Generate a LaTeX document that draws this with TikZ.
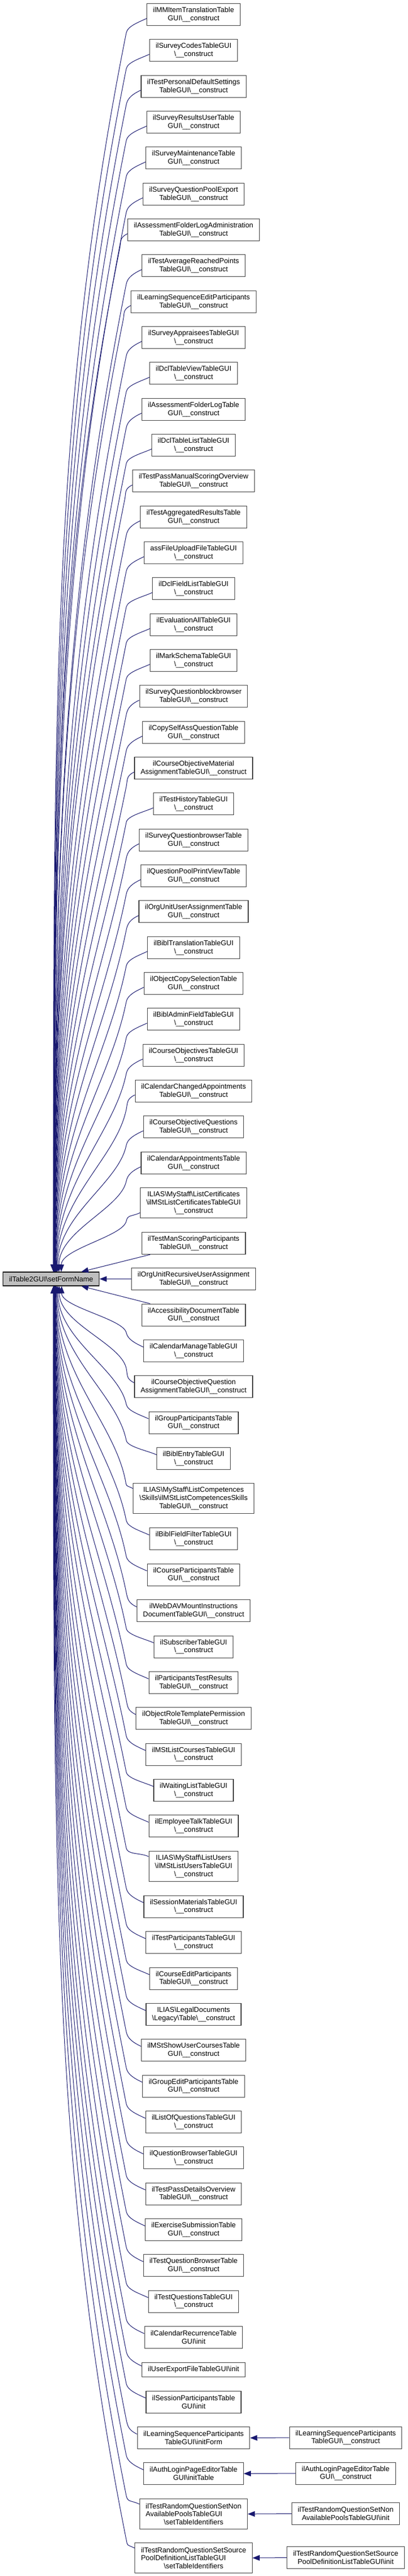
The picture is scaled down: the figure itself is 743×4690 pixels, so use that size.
\documentclass[tikz,border=0pt]{standalone}
\usepackage{fontspec}
\setmainfont{Liberation Sans}
\usetikzlibrary{arrows.meta,calc}
\definecolor{edgeblue}{HTML}{191970}
\definecolor{nodegray}{HTML}{BFBFBF}
\definecolor{nodeborder}{HTML}{404040}
\newcommand\bsl{\textbackslash}
\newcommand\ctor{\textbackslash\_\_construct}
\begin{document}
\begin{tikzpicture}[x=1pt,y=-1pt,
  font=\fontsize{13}{14.7}\selectfont,
  cls/.style={draw=nodeborder, line width=1.1pt, fill=white, align=center,
    inner xsep=11pt, inner ysep=0pt, anchor=north},
  h1/.style={minimum height=26pt},
  h2/.style={minimum height=40pt},
  h3/.style={minimum height=55pt},
  conn/.style={draw=edgeblue, line width=1pt,
    {Triangle[length=13pt,width=10pt,fill=edgeblue]}-}]
\fill[white] (0,0) rectangle (743,4690);
\useasboundingbox (0,0) rectangle (743,4690);

\node[cls, fill=nodegray, draw=black, anchor=west, minimum height=25pt] (L) at (5,2328.5) {ilTable2GUI\bsl setFormName};

\node[cls,h2] (n1) at (352.5,6) {ilMMItemTranslationTable\\GUI\ctor};
\node[cls,h2] (n2) at (352.5,71.3) {ilSurveyCodesTableGUI\\\ctor};
\node[cls,h2] (n3) at (352.5,136.7) {ilTestPersonalDefaultSettings\\TableGUI\ctor};
\node[cls,h2] (n4) at (352.5,202) {ilSurveyResultsUserTable\\GUI\ctor};
\node[cls,h2] (n5) at (352.5,267.3) {ilSurveyMaintenanceTable\\GUI\ctor};
\node[cls,h2] (n6) at (352.5,332.7) {ilSurveyQuestionPoolExport\\TableGUI\ctor};
\node[cls,h2] (n7) at (352.5,398) {ilAssessmentFolderLogAdministration\\TableGUI\ctor};
\node[cls,h2] (n8) at (352.5,463.3) {ilTestAverageReachedPoints\\TableGUI\ctor};
\node[cls,h2] (n9) at (352.5,528.7) {ilLearningSequenceEditParticipants\\TableGUI\ctor};
\node[cls,h2] (n10) at (352.5,594) {ilSurveyAppraiseesTableGUI\\\ctor};
\node[cls,h2] (n11) at (352.5,659.3) {ilDclTableViewTableGUI\\\ctor};
\node[cls,h2] (n12) at (352.5,724.7) {ilAssessmentFolderLogTable\\GUI\ctor};
\node[cls,h2] (n13) at (352.5,790) {ilDclTableListTableGUI\\\ctor};
\node[cls,h2] (n14) at (352.5,855.3) {ilTestPassManualScoringOverview\\TableGUI\ctor};
\node[cls,h2] (n15) at (352.5,920.7) {ilTestAggregatedResultsTable\\GUI\ctor};
\node[cls,h2] (n16) at (352.5,986) {assFileUploadFileTableGUI\\\ctor};
\node[cls,h2] (n17) at (352.5,1051.3) {ilDclFieldListTableGUI\\\ctor};
\node[cls,h2] (n18) at (352.5,1116.7) {ilEvaluationAllTableGUI\\\ctor};
\node[cls,h2] (n19) at (352.5,1182) {ilMarkSchemaTableGUI\\\ctor};
\node[cls,h2] (n20) at (352.5,1247.3) {ilSurveyQuestionblockbrowser\\TableGUI\ctor};
\node[cls,h2] (n21) at (352.5,1312.7) {ilCopySelfAssQuestionTable\\GUI\ctor};
\node[cls,h2] (n22) at (352.5,1378) {ilCourseObjectiveMaterial\\AssignmentTableGUI\ctor};
\node[cls,h2] (n23) at (352.5,1443.3) {ilTestHistoryTableGUI\\\ctor};
\node[cls,h2] (n24) at (352.5,1508.7) {ilSurveyQuestionbrowserTable\\GUI\ctor};
\node[cls,h2] (n25) at (352.5,1574) {ilQuestionPoolPrintViewTable\\GUI\ctor};
\node[cls,h2] (n26) at (352.5,1639.3) {ilOrgUnitUserAssignmentTable\\GUI\ctor};
\node[cls,h2] (n27) at (352.5,1704.7) {ilBiblTranslationTableGUI\\\ctor};
\node[cls,h2] (n28) at (352.5,1770) {ilObjectCopySelectionTable\\GUI\ctor};
\node[cls,h2] (n29) at (352.5,1835.3) {ilBiblAdminFieldTableGUI\\\ctor};
\node[cls,h2] (n30) at (352.5,1900.7) {ilCourseObjectivesTableGUI\\\ctor};
\node[cls,h2] (n31) at (352.5,1966) {ilCalendarChangedAppointments\\TableGUI\ctor};
\node[cls,h2] (n32) at (352.5,2031.3) {ilCourseObjectiveQuestions\\TableGUI\ctor};
\node[cls,h2] (n33) at (352.5,2096.7) {ilCalendarAppointmentsTable\\GUI\ctor};
\node[cls,h3] (n34) at (352.5,2162) {ILIAS\bsl MyStaff\bsl ListCertificates\\\bsl ilMStListCertificatesTableGUI\\\ctor};
\node[cls,h2] (n35) at (352.5,2243) {ilTestManScoringParticipants\\TableGUI\ctor};
\node[cls,h2] (n36) at (352.5,2308) {ilOrgUnitRecursiveUserAssignment\\TableGUI\ctor};
\node[cls,h2] (n37) at (352.5,2373.5) {ilAccessibilityDocumentTable\\GUI\ctor};
\node[cls,h2] (n38) at (352.5,2439) {ilCalendarManageTableGUI\\\ctor};
\node[cls,h2] (n39) at (352.5,2504) {ilCourseObjectiveQuestion\\AssignmentTableGUI\ctor};
\node[cls,h2] (n40) at (352.5,2569.5) {ilGroupParticipantsTable\\GUI\ctor};
\node[cls,h2] (n41) at (352.5,2635) {ilBiblEntryTableGUI\\\ctor};
\node[cls,h3] (n42) at (352.5,2700) {ILIAS\bsl MyStaff\bsl ListCompetences\\\bsl Skills\bsl ilMStListCompetencesSkills\\TableGUI\ctor};
\node[cls,h2] (n43) at (352.5,2781) {ilBiblFieldFilterTableGUI\\\ctor};
\node[cls,h2] (n44) at (352.5,2846.5) {ilCourseParticipantsTable\\GUI\ctor};
\node[cls,h2] (n45) at (352.5,2912) {ilWebDAVMountInstructions\\DocumentTableGUI\ctor};
\node[cls,h2] (n46) at (352.5,2977.5) {ilSubscriberTableGUI\\\ctor};
\node[cls,h2] (n47) at (352.5,3043) {ilParticipantsTestResults\\TableGUI\ctor};
\node[cls,h2] (n48) at (352.5,3108) {ilObjectRoleTemplatePermission\\TableGUI\ctor};
\node[cls,h2] (n49) at (352.5,3173.5) {ilMStListCoursesTableGUI\\\ctor};
\node[cls,h2] (n50) at (352.5,3239) {ilWaitingListTableGUI\\\ctor};
\node[cls,h2] (n51) at (352.5,3304) {ilEmployeeTalkTableGUI\\\ctor};
\node[cls,h3] (n52) at (352.5,3370) {ILIAS\bsl MyStaff\bsl ListUsers\\\bsl ilMStListUsersTableGUI\\\ctor};
\node[cls,h2] (n53) at (352.5,3450.5) {ilSessionMaterialsTableGUI\\\ctor};
\node[cls,h2] (n54) at (352.5,3516) {ilTestParticipantsTableGUI\\\ctor};
\node[cls,h2] (n55) at (352.5,3581.5) {ilCourseEditParticipants\\TableGUI\ctor};
\node[cls,h2] (n56) at (352.5,3647) {ILIAS\bsl LegalDocuments\\\bsl Legacy\bsl Table\ctor};
\node[cls,h2] (n57) at (352.5,3712) {ilMStShowUserCoursesTable\\GUI\ctor};
\node[cls,h2] (n58) at (352.5,3777.5) {ilGroupEditParticipantsTable\\GUI\ctor};
\node[cls,h2] (n59) at (352.5,3843) {ilListOfQuestionsTableGUI\\\ctor};
\node[cls,h2] (n60) at (352.5,3908) {ilQuestionBrowserTableGUI\\\ctor};
\node[cls,h2] (n61) at (352.5,3973.5) {ilTestPassDetailsOverview\\TableGUI\ctor};
\node[cls,h2] (n62) at (352.5,4039) {ilExerciseSubmissionTable\\GUI\ctor};
\node[cls,h2] (n63) at (352.5,4104) {ilTestQuestionBrowserTable\\GUI\ctor};
\node[cls,h2] (n64) at (352.5,4169.5) {ilTestQuestionsTableGUI\\\ctor};
\node[cls,h2] (n65) at (352.5,4235) {ilCalendarRecurrenceTable\\GUI\bsl init};
\node[cls,h1] (n66) at (352.5,4301) {ilUserExportFileTableGUI\bsl init};
\node[cls,h2] (n67) at (352.5,4352.5) {ilSessionParticipantsTable\\GUI\bsl init};
\node[cls,h2] (n68) at (352.5,4418) {ilLearningSequenceParticipants\\TableGUI\bsl initForm};
\node[cls,h2] (n69) at (352.5,4483) {ilAuthLoginPageEditorTable\\GUI\bsl initTable};
\node[cls,h3] (n70) at (352.5,4549) {ilTestRandomQuestionSetNon\\\rlap{AvailablePoolsTableGUI}\phantom{ilTestRandomQuestionSetNon}\\\bsl setTableIdentifiers};
\node[cls,h3] (n71) at (352.5,4629) {ilTestRandomQuestionSetSource\\\rlap{PoolDefinitionListTableGUI}\phantom{ilTestRandomQuestionSetSource}\\\bsl setTableIdentifiers};

\node[cls,h2,anchor=center] (r1) at (629.5,4438) {ilLearningSequenceParticipants\\TableGUI\ctor};
\node[cls,h2,anchor=center] (r2) at (629.5,4503) {ilAuthLoginPageEditorTable\\GUI\ctor};
\node[cls,h2,anchor=center] (r3) at (629.5,4576.5) {ilTestRandomQuestionSetNon\\AvailablePoolsTableGUI\bsl init};
\node[cls,h2,anchor=center] (r4) at (629.5,4656.5) {ilTestRandomQuestionSetSource\\PoolDefinitionListTableGUI\bsl init};

% edges from nodes above
\foreach \i in {1,...,34}{
  \path (n\i.north); \pgfgetlastxy{\xn}{\yn}
  \path (n\i.south); \pgfgetlastxy{\xs}{\ys}
  \path (n\i.west); \pgfgetlastxy{\xl}{\yl}
  \pgfmathsetmacro\sh{ifthenelse((\yn)-(\ys)>50,18,7)}
  \pgfmathsetmacro\bx{min(230,\xl-14)}
  \pgfmathsetmacro\by{33-(\yl)}
  \pgfmathsetmacro\LL{2316-\by}
  \pgfmathsetmacro\ca{0.45*\LL}
  \pgfmathsetmacro\cb{0.06*\LL}
  \pgfmathsetmacro\cc{0.3*\LL}
  \pgfmathsetmacro\ex{91+3000/(\LL+100)}
  \draw[conn] ([xshift=\ex pt]L.north west) .. controls +(0,-\ca) and +(-\cb,\cc) .. (\bx,\by) .. controls +(2.4,-11.8) and +(-15,7) .. ([yshift=-\sh pt]n\i.west);
}
% edges from nodes below
\foreach \i in {38,...,71}{
  \path (n\i.north); \pgfgetlastxy{\xn}{\yn}
  \path (n\i.south); \pgfgetlastxy{\xs}{\ys}
  \path (n\i.west); \pgfgetlastxy{\xl}{\yl}
  \pgfmathsetmacro\sh{ifthenelse((\yn)-(\ys)>50,18,7)}
  \pgfmathsetmacro\bx{min(230,\xl-14)}
  \pgfmathsetmacro\by{-33-(\yl)}
  \pgfmathsetmacro\LL{\by-2341}
  \pgfmathsetmacro\ca{0.45*\LL}
  \pgfmathsetmacro\cb{0.06*\LL}
  \pgfmathsetmacro\cc{0.3*\LL}
  \pgfmathsetmacro\ex{91+3000/(\LL+100)}
  \draw[conn] ([xshift=\ex pt]L.south west) .. controls +(0,\ca) and +(-\cb,-\cc) .. (\bx,\by) .. controls +(2.4,11.8) and +(-15,-7) .. ([yshift=\sh pt]n\i.west);
}
% nearest nodes
\draw[conn] ([xshift=143pt]L.north west) -- ([xshift=16pt]n35.south west);
\draw[conn] (L.east) -- (n36.west);
\draw[conn] ([xshift=143pt]L.south west) -- ([xshift=16pt]n37.north west);
% right column
\foreach \a/\b in {n68/r1,n69/r2,n70/r3,n71/r4}
  \draw[conn] (\a.east) -- (\b.west);
\end{tikzpicture}
\end{document}
